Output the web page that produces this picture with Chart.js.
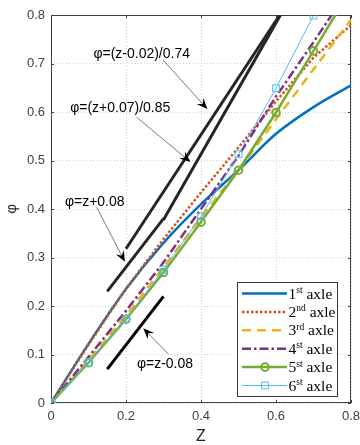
<!DOCTYPE html>
<html>
<head>
<meta charset="utf-8">
<script src="https://cdn.jsdelivr.net/npm/chart.js@4.4.1/dist/chart.umd.min.js"></script>
<style>
  html, body { margin: 0; padding: 0; background: #fff; }
</style>
</head>
<body>
<canvas id="phiChart" width="360" height="445"></canvas>
<script>
// z positions of the computed points
const zValues = [0, 0.1, 0.2, 0.3, 0.4, 0.5, 0.6, 0.7, 0.8];

// phi for each axle
const axle1 = [0, 0.122, 0.235, 0.33, 0.41, 0.48, 0.555, 0.61, 0.655];
const axle2 = [0, 0.12, 0.236, 0.338, 0.434, 0.527, 0.622, 0.712, 0.779];
const axle3 = [0, 0.088, 0.18, 0.28, 0.383, 0.48, 0.585, 0.688, 0.79];
const axle4 = [0, 0.095, 0.19, 0.29, 0.40, 0.51, 0.632, 0.744, 0.86];
const axle5 = [0, 0.083, 0.173, 0.269, 0.373, 0.48, 0.599, 0.726, 0.853];
const axle6 = [0, 0.083, 0.173, 0.275, 0.385, 0.513, 0.649, 0.799, 0.95];

// fitted reference lines, [z, phi] end points
const lineZm02 = [[0.3, 0.378], [0.612, 0.8]];   // phi=(z-0.02)/0.74
const lineZp07 = [[0.2, 0.318], [0.61, 0.8]];    // phi=(z+0.07)/0.85
const lineZp08 = [[0.15, 0.23], [0.3, 0.38]];    // phi=z+0.08
const lineZm08 = [[0.15, 0.07], [0.3, 0.22]];    // phi=z-0.08

// annotation texts, anchor (left, middle) and arrows
const noteText = ['φ=(z-0.02)/0.74', 'φ=(z+0.07)/0.85', 'φ=z+0.08', 'φ=z-0.08'];
const notePos = [[0.113, 0.72], [0.051, 0.607], [0.037, 0.414], [0.229, 0.080]];
const arrowFrom = [[0.299, 0.707], [0.2285, 0.589], [0.122, 0.4035], [0.313, 0.101]];
const arrowTo = [[0.417, 0.606], [0.372, 0.497], [0.197, 0.291], [0.246, 0.154]];

const legendNums = ['1', '2', '3', '4', '5', '6'];
const legendSups = ['st', 'nd', 'rd', 'st', 'st', 'st'];

const xTickValues = [0, 0.2, 0.4, 0.6, 0.8];
const yTickValues = [0, 0.1, 0.2, 0.3, 0.4, 0.5, 0.6, 0.7, 0.8];

const toPts = ys => zValues.map((z, i) => ({ x: z, y: ys[i] }));
const segPts = seg => seg.map(p => ({ x: p[0], y: p[1] }));
const fmt = v => (v === 0 ? '0' : Number(v).toFixed(1));

function refLine(seg, color, width) {
    return {
        data: segPts(seg), borderColor: color, borderWidth: width,
        pointRadius: 0, order: 10
    };
}

const datasets = [
    { data: toPts(axle1), borderColor: '#0072BD', borderWidth: 2.5, pointRadius: 0,
      cubicInterpolationMode: 'monotone', order: 6 },
    { data: toPts(axle2), borderColor: '#D95319', borderWidth: 2.5, borderDash: [2.5, 2],
      pointRadius: 0, order: 5 },
    { data: toPts(axle3), borderColor: '#EDB120', borderWidth: 2.5, borderDash: [9, 6],
      pointRadius: 0, order: 4 },
    { data: toPts(axle4), borderColor: '#7E2F8E', borderWidth: 2.5, borderDash: [9, 3, 2.5, 3],
      pointRadius: 0, order: 3 },
    { data: toPts(axle5), borderColor: '#77AC30', borderWidth: 2.5, pointRadius: 3.8,
      pointStyle: 'circle', pointBorderWidth: 2, pointBorderColor: '#77AC30',
      pointBackgroundColor: 'rgba(0,0,0,0)', order: 2 },
    { data: toPts(axle6), borderColor: '#4DBEEE', borderWidth: 1, pointRadius: 4.8,
      pointStyle: 'rect', pointBorderWidth: 1, pointBorderColor: '#4DBEEE',
      pointBackgroundColor: 'rgba(0,0,0,0)', order: 1 },
    refLine(lineZm02, '#262626', 3),
    refLine(lineZp07, '#262626', 3),
    refLine(lineZp08, '#262626', 3),
    refLine(lineZm08, '#000000', 3)
];

function drawArrow(ctx, x0, y0, x1, y1) {
    const ang = Math.atan2(y1 - y0, x1 - x0);
    const len = 11, half = 4.5, notch = 7;
    ctx.strokeStyle = '#444';
    ctx.lineWidth = 0.7;
    ctx.beginPath();
    ctx.moveTo(x0, y0);
    ctx.lineTo(x1 - Math.cos(ang) * notch, y1 - Math.sin(ang) * notch);
    ctx.stroke();
    ctx.save();
    ctx.translate(x1, y1);
    ctx.rotate(ang);
    ctx.fillStyle = '#000';
    ctx.beginPath();
    ctx.moveTo(0, 0);
    ctx.lineTo(-len, -half);
    ctx.lineTo(-notch, 0);
    ctx.lineTo(-len, half);
    ctx.closePath();
    ctx.fill();
    ctx.restore();
}

// axes box with inward tick marks
const boxPlugin = {
    id: 'box',
    beforeDatasetsDraw(chart) {
        const { ctx, chartArea: a, scales: { x, y } } = chart;
        ctx.save();
        ctx.strokeStyle = '#404040';
        ctx.lineWidth = 1;
        ctx.strokeRect(a.left + 0.5, a.top + 0.5, a.right - a.left - 1, a.bottom - a.top - 1);
        ctx.beginPath();
        xTickValues.forEach(v => {
            const px = Math.round(x.getPixelForValue(v)) + 0.5;
            ctx.moveTo(px, a.bottom); ctx.lineTo(px, a.bottom - 3);
            ctx.moveTo(px, a.top); ctx.lineTo(px, a.top + 3);
        });
        yTickValues.forEach(v => {
            const py = Math.round(y.getPixelForValue(v)) + 0.5;
            ctx.moveTo(a.left, py); ctx.lineTo(a.left + 3, py);
            ctx.moveTo(a.right, py); ctx.lineTo(a.right - 3, py);
        });
        ctx.stroke();
        ctx.restore();
    }
};

// arrows and formula labels
const notePlugin = {
    id: 'notes',
    afterDatasetsDraw(chart) {
        const { ctx, scales: { x, y } } = chart;
        ctx.save();
        arrowFrom.forEach((p, i) => {
            drawArrow(ctx, x.getPixelForValue(p[0]), y.getPixelForValue(p[1]),
                x.getPixelForValue(arrowTo[i][0]), y.getPixelForValue(arrowTo[i][1]));
        });
        ctx.font = '14px "Liberation Sans", Arial, sans-serif';
        ctx.fillStyle = '#000';
        ctx.textBaseline = 'middle';
        noteText.forEach((t, i) => {
            ctx.fillText(t, x.getPixelForValue(notePos[i][0]), y.getPixelForValue(notePos[i][1]));
        });
        ctx.restore();
    }
};

// legend with superscript ordinals
const legendPlugin = {
    id: 'axleLegend',
    afterDraw(chart) {
        const { ctx } = chart;
        const bx = 237.5, by = 282.5, bw = 100, bh = 114;
        const serif = '"Liberation Serif", "Times New Roman", serif';
        ctx.save();
        ctx.fillStyle = '#fff';
        ctx.fillRect(bx, by, bw, bh);
        ctx.strokeStyle = '#333';
        ctx.lineWidth = 1;
        ctx.strokeRect(bx, by, bw, bh);
        legendNums.forEach((num, i) => {
            const ds = chart.data.datasets[i];
            const cy = 293.5 + i * 18.4;
            ctx.save();
            ctx.strokeStyle = ds.borderColor;
            ctx.lineWidth = ds.borderWidth;
            ctx.setLineDash(ds.borderDash || []);
            ctx.beginPath();
            ctx.moveTo(242, cy);
            ctx.lineTo(287, cy);
            ctx.stroke();
            ctx.restore();
            if (ds.pointRadius > 0) {
                ctx.save();
                ctx.fillStyle = 'rgba(0,0,0,0)';
                ctx.strokeStyle = ds.pointBorderColor;
                ctx.lineWidth = ds.pointBorderWidth;
                Chart.helpers.drawPoint(ctx, {
                    pointStyle: ds.pointStyle, radius: ds.pointRadius, borderWidth: ds.pointBorderWidth
                }, 265, cy);
                ctx.restore();
            }
            ctx.fillStyle = '#000';
            ctx.textBaseline = 'alphabetic';
            ctx.font = '15.5px ' + serif;
            ctx.fillText(num, 288.5, cy + 5);
            const w1 = ctx.measureText(num).width;
            ctx.font = '9.5px ' + serif;
            ctx.fillText(legendSups[i], 288.5 + w1, cy - 0.5);
            const w2 = ctx.measureText(legendSups[i]).width;
            ctx.font = '15.5px ' + serif;
            ctx.fillText(' axle', 288.5 + w1 + w2, cy + 5);
        });
        ctx.restore();
    }
};

const tickFont = { family: '"Liberation Sans", Arial, sans-serif', size: 13 };

new Chart(document.getElementById('phiChart'), {
    type: 'line',
    data: { datasets: datasets },
    options: {
        responsive: false,
        animation: false,
        layout: { padding: { top: 15, right: 9, left: 0, bottom: 0 } },
        plugins: { legend: { display: false }, tooltip: { enabled: false } },
        scales: {
            x: {
                type: 'linear', min: 0, max: 0.8,
                afterBuildTicks: s => { s.ticks = xTickValues.map(v => ({ value: v })); },
                afterFit: s => { s.height = 42; s.paddingLeft = 0; s.paddingRight = 0; },
                ticks: { color: '#404040', font: tickFont, padding: 6, maxRotation: 0, callback: v => fmt(v) },
                grid: { color: '#d0d0d0', drawTicks: false, lineWidth: 1 },
                border: { display: false, dash: [1, 2] },
                title: {
                    display: true, text: 'Z', color: '#262626',
                    font: { family: '"Liberation Sans", Arial, sans-serif', size: 16, lineHeight: 1 },
                    padding: 0
                }
            },
            y: {
                type: 'linear', min: 0, max: 0.8,
                afterBuildTicks: s => { s.ticks = yTickValues.map(v => ({ value: v })); },
                afterFit: s => { s.width = 51; },
                ticks: { color: '#404040', font: tickFont, padding: 6, callback: v => fmt(v) },
                grid: { color: '#d0d0d0', drawTicks: false, lineWidth: 1 },
                border: { display: false, dash: [1, 2] },
                title: {
                    display: true, text: 'φ', color: '#262626',
                    font: { family: '"Liberation Sans", Arial, sans-serif', size: 15, lineHeight: 1 },
                    padding: { top: 4, bottom: 0 }
                }
            }
        }
    },
    plugins: [boxPlugin, notePlugin, legendPlugin]
});
</script>
</body>
</html>
